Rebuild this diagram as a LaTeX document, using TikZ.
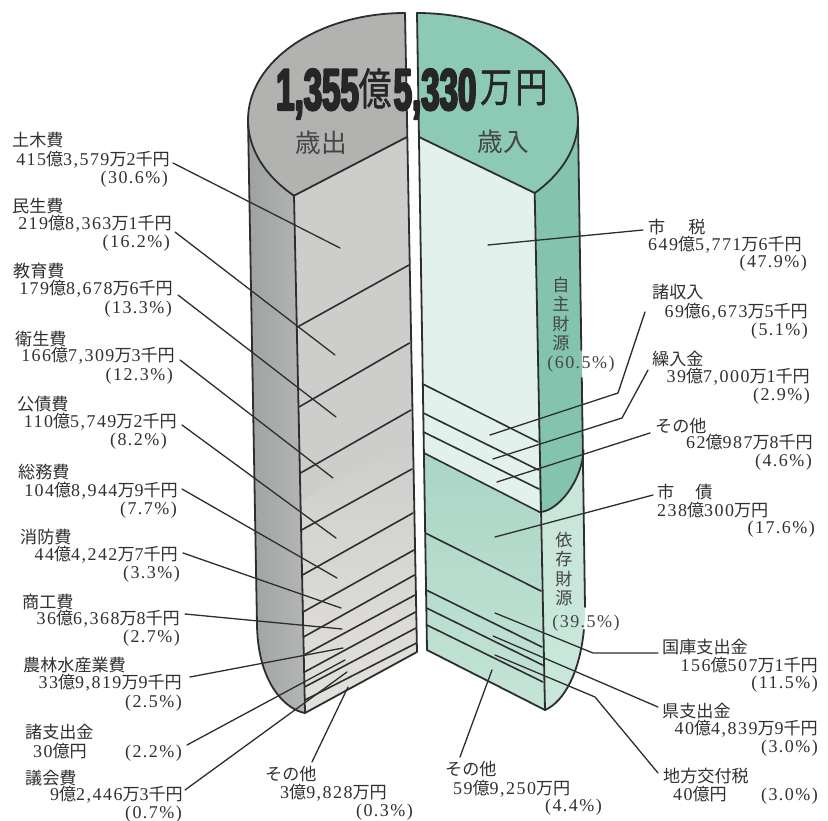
\documentclass[tikz,border=0pt]{standalone}
\usepackage{graphicx}
\usepackage{fontspec}
\setmainfont{Liberation Serif}[LetterSpace=8]
\newfontfamily\J{Noto Sans CJK JP}[Scale=0.95]
\newfontfamily\JT{Noto Sans CJK JP}[FakeBold=1]
\newfontfamily\TD{Liberation Sans}[FakeStretch=0.56,FakeBold=3.5]
\newcommand\K[1]{{\J #1}}
\definecolor{ln}{HTML}{2E2E2E}
\definecolor{txt}{HTML}{303030}
\definecolor{txtb}{HTML}{454545}
\definecolor{ttl}{HTML}{262626}
\definecolor{gtop}{HTML}{B2B3B1}
\definecolor{gsideD}{HTML}{9EA2A0}
\definecolor{gsideL}{HTML}{B3B6B4}
\definecolor{gface}{HTML}{CDCECC}
\definecolor{gfaceB}{HTML}{E3E1DC}
\definecolor{ttop}{HTML}{8CCAB6}
\definecolor{tside}{HTML}{84C4AE}
\definecolor{tsideB}{HTML}{C8E6DA}
\definecolor{tfaceU}{HTML}{E2F1EB}
\definecolor{tfaceL}{HTML}{A9D5C5}
\definecolor{tfaceLB}{HTML}{C4E4D7}
\tikzset{
  edge/.style={draw=ln,line width=1.8pt},
  stripe/.style={draw=ln,line width=1.6pt},
  leader/.style={draw=ln,line width=1.3pt},
  lbl/.style={inner sep=0pt,text=txt,text height=12pt,text depth=2pt,font=\fontsize{18}{20}\selectfont},
  vl/.style={inner sep=0pt,text=txtb,align=center,font=\J\fontsize{18}{19.5}\selectfont},
  ttlnum/.style={inner sep=0pt,anchor=base,text=ttl,font=\TD\bfseries\fontsize{59}{60}\selectfont},
  ttlkan/.style={inner sep=0pt,anchor=base,text=ttl},
  head/.style={inner sep=0pt,text=txtb,font=\J\fontsize{27}{27}\selectfont}
}
\begin{document}
\begin{tikzpicture}[x=1pt,y=-1pt,line join=round,line cap=round]
\fill[white] (0,0) rectangle (828,821);
\useasboundingbox (0,0) rectangle (828,821);

% ---------- left half (expenditure) ----------
\path[left color=gsideD,right color=gsideL] (248,120) arc[start angle=180,end angle=225,x radius=157pt,y radius=107pt] -- (305,713) .. controls (287,710) and (258,685) .. (257,625) -- cycle;
\path[fill=gtop] (405,13) arc[start angle=90,end angle=225,x radius=157pt,y radius=107pt] -- (407,137) -- cycle;
\path[fill=gface] (294,195.7) -- (407,137) -- (417,652) -- (305,713) -- cycle;
\path[top color=gface,bottom color=gfaceB] (302,500) -- (411.5,440) -- (417,652) -- (305,713) -- cycle;

% ---------- right half (revenue) ----------
\path[fill=ttop] (417,13) arc[start angle=90,end angle=-43,x radius=161pt,y radius=107pt] -- (419,137) -- cycle;
\path[fill=tside] (578,120) arc[start angle=0,end angle=-43,x radius=161pt,y radius=107pt] -- (539.5,512) .. controls (557,512) and (582,482) .. (583.5,450) -- cycle;
\path[fill=tsideB] (539.5,512) -- (545,710) .. controls (568,700) and (585,660) .. (585,607) -- (583.5,450) .. controls (582,482) and (557,512) .. (539.5,512) -- cycle;
\path[fill=tfaceU] (419,137) -- (534.7,193) -- (539.5,512) -- (424,453) -- cycle;
\path[top color=tfaceL,bottom color=tfaceLB] (424,453) -- (539.5,512) -- (545,710) -- (427,650) -- cycle;

% ---------- stripes ----------
\foreach \a/\b/\c/\d in {297.5/327/409/265, 299/407/409.5/343, 300.5/473/411/410, 301.5/530/412/469,
  302.5/575/413/513, 303/612/414/550, 303.5/637/414.5/575, 304/655/415/595,
  304.5/672/415.5/612, 304.5/687/416/628, 305/700/416.5/643}
  \draw[stripe] (\a,\b) -- (\c,\d);
\foreach \a/\b/\c/\d in {422.8/384/538/442, 423.3/413/538.5/470, 423.6/432/539/489,
  424/453/539.5/512, 425.3/533/541/591, 426.2/590/542/647, 426.5/608/542.5/665, 426.8/625/543/682}
  \draw[stripe] (\a,\b) -- (\c,\d);

% ---------- outlines ----------
\draw[edge] (405,13) arc[start angle=90,end angle=225,x radius=157pt,y radius=107pt];
\draw[edge] (248,120) -- (257,625) .. controls (258,685) and (287,710) .. (305,713);
\draw[edge] (294,195.7) -- (407,137);
\draw[edge] (405,13) -- (417,652) -- (305,713) -- (294,195.7);

\draw[edge] (417,13) arc[start angle=90,end angle=-43,x radius=161pt,y radius=107pt];
\draw[edge] (419,137) -- (534.7,193);
\draw[edge] (417,13) -- (427,650) -- (545,710) -- (534.7,193);
\draw[edge] (578,120) -- (581.3,350);
\draw[edge] (581.8,378) -- (585,607);
\draw[edge] (583.9,629.9) .. controls (579.8,671.3) and (564.6,701.5) .. (545,710);
\draw[edge] (583.5,450) .. controls (582,482) and (557,512) .. (539.5,512);

% ---------- face points for leaders ----------
\coordinate (eA) at (340,248);
\coordinate (eB) at (335,355);
\coordinate (eC) at (336,417);
\coordinate (eD) at (333,478);
\coordinate (eE) at (336,538);
\coordinate (eF) at (337,578);
\coordinate (eG) at (341,608);
\coordinate (eH) at (342,629);
\coordinate (eI) at (343,648);
\coordinate (eJ) at (345,660);
\coordinate (eK) at (347,672);
\coordinate (eM) at (348,687);
\coordinate (fP) at (488,245);
\coordinate (fQ) at (490,435);
\coordinate (kQ) at (618,393);
\coordinate (fR) at (493,459);
\coordinate (kR) at (622,418);
\coordinate (fS) at (497,482);
\coordinate (fU) at (495,537);
\coordinate (fW) at (495,613);
\coordinate (kW) at (593,653);
\coordinate (fX) at (493,636);
\coordinate (fY) at (495,655);
\coordinate (kY) at (595,697);
\coordinate (fZ) at (492,670);

% ---------- left labels ----------
\node[lbl,anchor=west] (a1) at (12,142) {\K{土木費}};
\node[lbl,anchor=east] (a2) at (170,161) {415\K{億}3,579\K{万}2\K{千円}};
\node[lbl,anchor=east] (a3) at (168,179) {(30.6\%)};
\node[lbl,anchor=west] (b1) at (12,208) {\K{民生費}};
\node[lbl,anchor=east] (b2) at (172,225) {219\K{億}8,363\K{万}1\K{千円}};
\node[lbl,anchor=east] (b3) at (170,243) {(16.2\%)};
\node[lbl,anchor=west] (c1) at (13,273) {\K{教育費}};
\node[lbl,anchor=east] (c2) at (173,290) {179\K{億}8,678\K{万}6\K{千円}};
\node[lbl,anchor=east] (c3) at (172,308) {(13.3\%)};
\node[lbl,anchor=west] (d1) at (15,340) {\K{衛生費}};
\node[lbl,anchor=east] (d2) at (175,357) {166\K{億}7,309\K{万}3\K{千円}};
\node[lbl,anchor=east] (d3) at (173,375) {(12.3\%)};
\node[lbl,anchor=west] (e1) at (17,405) {\K{公債費}};
\node[lbl,anchor=east] (e2) at (177,422) {110\K{億}5,749\K{万}2\K{千円}};
\node[lbl,anchor=east] (e3) at (167,440) {(8.2\%)};
\node[lbl,anchor=west] (f1) at (18,473) {\K{総務費}};
\node[lbl,anchor=east] (f2) at (178,491) {104\K{億}8,944\K{万}9\K{千円}};
\node[lbl,anchor=east] (f3) at (177,509) {(7.7\%)};
\node[lbl,anchor=west] (g1) at (20,538) {\K{消防費}};
\node[lbl,anchor=east] (g2) at (178,555) {44\K{億}4,242\K{万}7\K{千円}};
\node[lbl,anchor=east] (g3) at (180,573) {(3.3\%)};
\node[lbl,anchor=west] (h1) at (22,603) {\K{商工費}};
\node[lbl,anchor=east] (h2) at (180,619) {36\K{億}6,368\K{万}8\K{千円}};
\node[lbl,anchor=east] (h3) at (180,637) {(2.7\%)};
\node[lbl,anchor=west] (i1) at (23,666) {\K{農林水産業費}};
\node[lbl,anchor=east] (i2) at (182,683) {33\K{億}9,819\K{万}9\K{千円}};
\node[lbl,anchor=east] (i3) at (182,702) {(2.5\%)};
\node[lbl,anchor=west] (j1) at (25,733) {\K{諸支出金}};
\node[lbl,anchor=west] (j2) at (33,752) {30\K{億円}};
\node[lbl,anchor=east] (j3) at (182,752) {(2.2\%)};
\node[lbl,anchor=west] (k1) at (25,779) {\K{議会費}};
\node[lbl,anchor=east] (k2) at (183,795) {9\K{億}2,446\K{万}3\K{千円}};
\node[lbl,anchor=east] (k3) at (182,813) {(0.7\%)};
\node[lbl,anchor=west] (m1) at (265,775) {\K{その他}};
\node[lbl,anchor=west] (m2) at (280,793) {3\K{億}9,828\K{万円}};
\node[lbl,anchor=east] (m3) at (413,811) {(0.3\%)};

\draw[leader] ([xshift=3pt,yshift=-2pt]a2.east) -- (eA);
\draw[leader] ([xshift=3pt,yshift=-7pt]b2.east) -- (eB);
\draw[leader] ([xshift=5pt,yshift=-5pt]c2.east) -- (eC);
\draw[leader] ([xshift=5pt,yshift=-3pt]d2.east) -- (eD);
\draw[leader] ([xshift=5pt,yshift=-3pt]e2.east) -- (eE);
\draw[leader] ([xshift=4pt,yshift=2pt]f2.east) -- (eF);
\draw[leader] ([xshift=5pt,yshift=2pt]g2.east) -- (eG);
\draw[leader] ([xshift=5pt,yshift=5pt]h2.east) -- (eH);
\draw[leader] ([xshift=8pt,yshift=6pt]i2.east) -- (eI);
\draw[leader] ([xshift=5pt,yshift=7pt]j3.east) -- (eJ);
\draw[leader] ([xshift=2pt,yshift=5pt]k2.east) -- (eK);
\draw[leader] ([xshift=47pt,yshift=13pt]m1.west) -- (eM);

% ---------- right labels ----------
\node[lbl,anchor=west] (p1) at (648,229) {\K{市}\hspace{23pt}\K{税}};
\node[lbl,anchor=west] (p2) at (648,246) {649\K{億}5,771\K{万}6\K{千円}};
\node[lbl,anchor=east] (p3) at (807,263) {(47.9\%)};
\node[lbl,anchor=west] (q1) at (652,294) {\K{諸収入}};
\node[lbl,anchor=east] (q2) at (808,312) {69\K{億}6,673\K{万}5\K{千円}};
\node[lbl,anchor=east] (q3) at (808,330) {(5.1\%)};
\node[lbl,anchor=west] (r1) at (652,361) {\K{繰入金}};
\node[lbl,anchor=east] (r2) at (810,377) {39\K{億}7,000\K{万}1\K{千円}};
\node[lbl,anchor=east] (r3) at (810,395) {(2.9\%)};
\node[lbl,anchor=west] (s1) at (655,427) {\K{その他}};
\node[lbl,anchor=east] (s2) at (813,443) {62\K{億}987\K{万}8\K{千円}};
\node[lbl,anchor=east] (s3) at (812,461) {(4.6\%)};
\node[lbl,anchor=west] (u1) at (657,493) {\K{市}\hspace{21pt}\K{債}};
\node[lbl,anchor=west] (u2) at (657,511) {238\K{億}300\K{万円}};
\node[lbl,anchor=east] (u3) at (815,528) {(17.6\%)};
\node[lbl,anchor=west] (w1) at (662,648) {\K{国庫支出金}};
\node[lbl,anchor=east] (w2) at (818,666) {156\K{億}507\K{万}1\K{千円}};
\node[lbl,anchor=east] (w3) at (818,683) {(11.5\%)};
\node[lbl,anchor=west] (x1) at (662,712) {\K{県支出金}};
\node[lbl,anchor=east] (x2) at (818,729) {40\K{億}4,839\K{万}9\K{千円}};
\node[lbl,anchor=east] (x3) at (818,747) {(3.0\%)};
\node[lbl,anchor=west] (y1) at (663,777) {\K{地方交付税}};
\node[lbl,anchor=west] (y2) at (673,795) {40\K{億円}};
\node[lbl,anchor=east] (y3) at (818,795) {(3.0\%)};
\node[lbl,anchor=west] (z1) at (445,770) {\K{その他}};
\node[lbl,anchor=west] (z2) at (453,789) {59\K{億}9,250\K{万円}};
\node[lbl,anchor=east] (z3) at (602,806) {(4.4\%)};

\draw[leader] (fP) -- ([xshift=-5pt,yshift=-1pt]p1.west);
\draw[leader] (fQ) -- (kQ) -- ([xshift=-7pt,yshift=-18pt]q1.west);
\draw[leader] (fR) -- (kR) -- ([xshift=-4pt,yshift=-9pt]r1.west);
\draw[leader] (fS) -- ([xshift=-5pt,yshift=-6pt]s1.west);
\draw[leader] (fU) -- ([xshift=-4pt,yshift=-2pt]u1.west);
\draw[leader] (fW) -- (kW) -- ([xshift=-4pt,yshift=-5pt]w1.west);
\draw[leader] (fX) -- ([xshift=-4pt,yshift=5pt]x1.west);
\draw[leader] (fY) -- (kY) -- ([xshift=-5pt,yshift=4pt]y1.west);
\draw[leader] (fZ) -- ([xshift=15pt,yshift=13pt]z1.west);

% ---------- texts on the cylinder ----------
\node[vl] (v1) at (561,313.75) {自\\主\\財\\源};
\node[lbl,text=txtb] (v2) at (581,363) {(60.5\%)};
\node[vl] (v3) at (564,569) {依\\存\\財\\源};
\node[lbl,text=txtb] (v4) at (586,622) {(39.5\%)};
\node[head] (h5) at (321,143) {歳出};
\node[head] (h6) at (503.5,142) {歳入};

% ---------- title ----------
\node[ttlnum] (t1) at (317.5,110) {1,355};
\node[ttlkan] (t2) at (375,105) {\scalebox{0.75}[1]{\JT\fontsize{44}{44}\selectfont 億}};
\node[ttlnum] (t3) at (435,110) {5,330};
\node[ttlkan] (t4) at (496,102) {\scalebox{0.78}[1]{\JT\fontsize{41}{41}\selectfont 万}};
\node[ttlkan] (t5) at (531.5,102) {\scalebox{0.78}[1]{\JT\fontsize{41}{41}\selectfont 円}};
\end{tikzpicture}
\end{document}
